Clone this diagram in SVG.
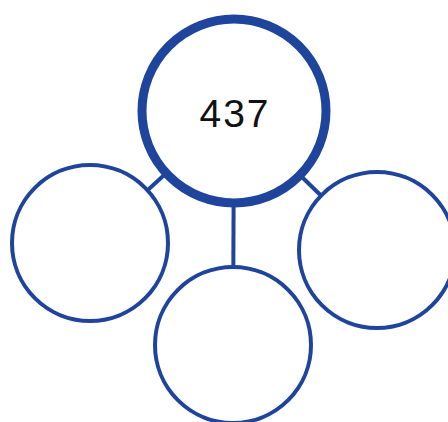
<svg xmlns="http://www.w3.org/2000/svg" width="448" height="422" viewBox="0 0 448 422">
<style>
.c{fill:#fff;stroke:#1e449b;stroke-width:4}
.top{stroke-width:9}
.l{stroke:#1e449b;stroke-width:4}
text{font-family:"Liberation Sans","DejaVu Sans",sans-serif;font-size:39px;fill:#111;text-anchor:middle;letter-spacing:2px}
</style>
<rect width="448" height="422" fill="#fff"/>
<g id="connectors">
<line class="l" x1="234" y1="111" x2="90" y2="243"/>
<line class="l" x1="234" y1="111" x2="377" y2="250"/>
<line class="l" x1="234" y1="111" x2="233" y2="345"/>
</g>
<g id="n437"><circle class="c top" cx="234" cy="111" r="92"/><text x="235" y="127">437</text></g>
<g id="left"><circle class="c" cx="90" cy="243" r="78"/></g>
<g id="right"><circle class="c" cx="377" cy="250" r="78"/></g>
<g id="bottom"><circle class="c" cx="233" cy="345" r="78"/></g>
</svg>
